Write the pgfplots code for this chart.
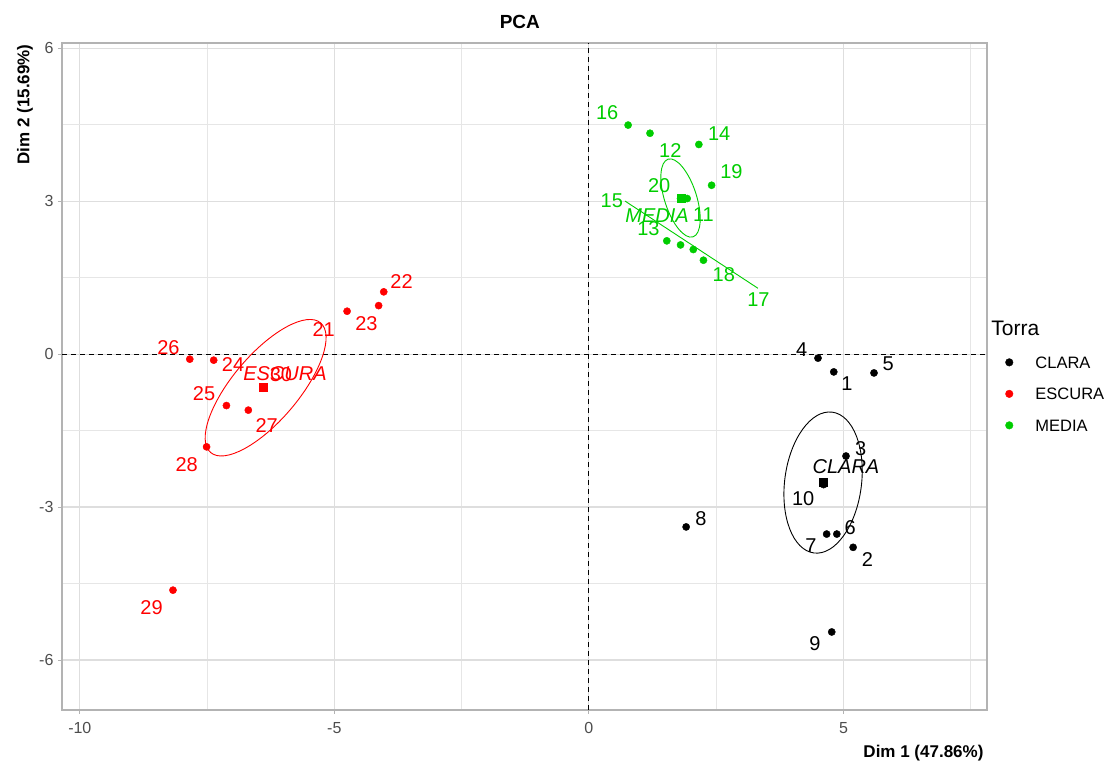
\documentclass[border=0pt]{standalone}
\usepackage{pgfplots}
\pgfplotsset{compat=1.18}
\usepackage{fontspec}
\setmainfont{Liberation Sans}
\definecolor{mgreen}{RGB}{0,205,0}
\definecolor{mred}{RGB}{255,0,0}
\definecolor{gridc}{RGB}{222,222,222}
\definecolor{framec}{RGB}{179,179,179}
\definecolor{tickc}{RGB}{77,77,77}
\newcommand{\lab}{\fontsize{20}{20}\selectfont}
\begin{document}
\begin{tikzpicture}
\begin{axis}[
 scale only axis, width=925pt, height=667pt,
 xmin=-10.35, xmax=7.82, ymin=-6.98, ymax=6.10,
 xtick={-10,-5,0,5}, ytick={-6,-3,0,3,6},
 minor xtick={-7.5,-2.5,2.5,7.5}, minor ytick={-4.5,-1.5,1.5,4.5},
 grid=both,
 major grid style={gridc, line width=1.1pt},
 minor grid style={gridc!75, line width=0.7pt},
 axis line style={framec, line width=1.2pt},
 tick align=outside, tick pos=left, major tick length=4pt, minor tick length=0pt,
 tick style={framec, line width=1pt},
 ticklabel style={font=\fontsize{16}{16}\selectfont, text=tickc},
 xticklabel style={yshift=-5pt},
 yticklabel style={xshift=-1pt},
 /pgf/number format/assume math mode=true,
 clip=false,
 legend style={at={(axis description cs:1.0165,0.5335)}, anchor=north west, draw=none, fill=none,
   font=\fontsize{16.5}{16.5}\selectfont, row sep=19.5pt,
   nodes={inner sep=0pt, text height=12pt, text depth=0pt}},
 legend cell align=left,
 legend image code/.code={\draw[mark size=3.8pt] plot coordinates {(0pt,0pt)}; \path (-3.5pt,0pt) (26pt,0pt);},
]
% reference lines
\addplot[forget plot, black, line width=1pt, dash pattern=on 5pt off 4pt] coordinates {(-10.35,0) (7.82,0)};
\addplot[forget plot, black, line width=1pt, dash pattern=on 5pt off 4pt] coordinates {(0,-6.98) (0,6.10)};

% points
\addplot[only marks, mark=*, mark size=3.6pt, black] coordinates {
 (4.81,-0.35) (5.19,-3.79) (5.05,-2.00) (4.50,-0.08) (5.60,-0.37)
 (4.87,-3.53) (4.67,-3.53) (1.91,-3.39) (4.77,-5.45) (4.61,-2.56)};
\addlegendentry{CLARA}
\addplot[only marks, mark=*, mark size=3.6pt, mred] coordinates {
 (-4.75,0.84) (-4.03,1.22) (-4.13,0.95) (-7.37,-0.12) (-7.12,-1.01)
 (-7.84,-0.10) (-6.69,-1.10) (-7.51,-1.82) (-8.17,-4.63) (-6.40,-0.67)};
\addlegendentry{ESCURA}
\addplot[only marks, mark=*, mark size=3.6pt, mgreen] coordinates {
 (1.93,3.05) (1.20,4.33) (1.53,2.22) (2.16,4.11) (1.80,2.14)
 (0.77,4.49) (2.25,1.84) (2.05,2.05) (2.41,3.31) (1.80,3.05)};
\addlegendentry{MEDIA}

% centroids
\addplot[forget plot, only marks, mark=square*, mark size=4pt, black] coordinates {(4.60,-2.52)};
\addplot[forget plot, only marks, mark=square*, mark size=4pt, mred] coordinates {(-6.40,-0.65)};
\addplot[forget plot, only marks, mark=square*, mark size=4pt, mgreen] coordinates {(1.82,3.05)};

% ellipses
\draw[black, line width=0.9pt, rotate around={82.6:(axis cs:4.60,-2.52)}] (axis cs:4.60,-2.52) ellipse [x radius=71pt, y radius=38.4pt];
\draw[mred, line width=0.9pt, rotate around={49.7:(axis cs:-6.35,-0.66)}] (axis cs:-6.35,-0.66) ellipse [x radius=85pt, y radius=33pt];
\draw[mgreen, line width=0.9pt, rotate around={107.8:(axis cs:1.80,3.06)}] (axis cs:1.80,3.06) ellipse [x radius=40.8pt, y radius=16pt];
\addplot[forget plot, mgreen, line width=0.9pt] coordinates {(0.71,3.0) (3.32,1.29)};

% point labels CLARA
\node[font=\lab, text=black] at (axis cs:5.07,-0.57) {1};
\node[font=\lab, text=black] at (axis cs:5.47,-4.03) {2};
\node[font=\lab, text=black] at (axis cs:5.34,-1.85) {3};
\node[font=\lab, text=black] at (axis cs:4.18,0.08) {4};
\node[font=\lab, text=black] at (axis cs:5.88,-0.18) {5};
\node[font=\lab, text=black] at (axis cs:5.13,-3.40) {6};
\node[font=\lab, text=black] at (axis cs:4.36,-3.76) {7};
\node[font=\lab, text=black] at (axis cs:2.20,-3.22) {8};
\node[font=\lab, text=black] at (axis cs:4.44,-5.67) {9};
\node[font=\lab, text=black] at (axis cs:4.21,-2.83) {10};
\node[font=\lab\itshape, text=black] at (axis cs:5.05,-2.21) {CLARA};
% ESCURA
\node[font=\lab, text=mred] at (axis cs:-5.21,0.49) {21};
\node[font=\lab, text=mred] at (axis cs:-3.68,1.42) {22};
\node[font=\lab, text=mred] at (axis cs:-4.37,0.59) {23};
\node[font=\lab, text=mred] at (axis cs:-6.99,-0.20) {24};
\node[font=\lab, text=mred] at (axis cs:-7.56,-0.77) {25};
\node[font=\lab, text=mred] at (axis cs:-8.26,0.13) {26};
\node[font=\lab, text=mred] at (axis cs:-6.33,-1.41) {27};
\node[font=\lab, text=mred] at (axis cs:-7.90,-2.16) {28};
\node[font=\lab, text=mred] at (axis cs:-8.59,-4.97) {29};
\node[font=\lab, text=mred] at (axis cs:-6.05,-0.40) {30};
\node[font=\lab\itshape, text=mred] at (axis cs:-5.97,-0.38) {ESCURA};
% MEDIA
\node[font=\lab, text=mgreen] at (axis cs:2.25,2.73) {11};
\node[font=\lab, text=mgreen] at (axis cs:1.60,3.99) {12};
\node[font=\lab, text=mgreen] at (axis cs:1.17,2.46) {13};
\node[font=\lab, text=mgreen] at (axis cs:2.56,4.33) {14};
\node[font=\lab, text=mgreen] at (axis cs:0.45,3.00) {15};
\node[font=\lab, text=mgreen] at (axis cs:0.36,4.73) {16};
\node[font=\lab, text=mgreen] at (axis cs:3.33,1.07) {17};
\node[font=\lab, text=mgreen] at (axis cs:2.65,1.55) {18};
\node[font=\lab, text=mgreen] at (axis cs:2.80,3.57) {19};
\node[font=\lab, text=mgreen] at (axis cs:1.38,3.30) {20};
\node[font=\lab\itshape, text=mgreen] at (axis cs:1.34,2.71) {MEDIA};

% titles
\node[font=\fontsize{19}{19}\selectfont\bfseries] at (axis description cs:0.495,1.0315) {PCA};
\node[font=\fontsize{17}{17}\selectfont\bfseries, anchor=east] at (axis description cs:1.0,-0.0645) {Dim 1 (47.86\%)};
\node[font=\fontsize{17}{17}\selectfont\bfseries, anchor=east, rotate=90, inner sep=0pt] at (axis description cs:-0.04,0.998) {Dim 2 (15.69\%)};
\node[font=\fontsize{21}{21}\selectfont, anchor=west, inner sep=0pt] at (axis description cs:1.0045,0.5715) {Torra};
\end{axis}
\pgfresetboundingbox
\useasboundingbox ([xshift=-62pt,yshift=-53pt]current axis.south west) rectangle ([xshift=120pt,yshift=43pt]current axis.north east);
\end{tikzpicture}
\end{document}
